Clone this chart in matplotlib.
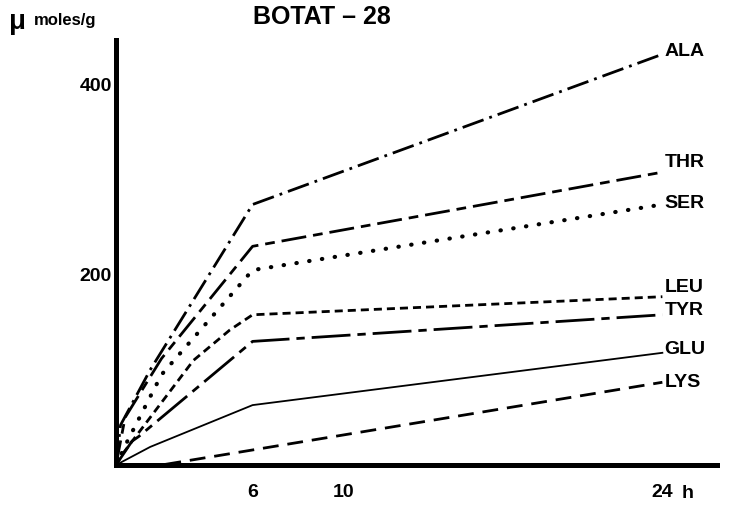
import matplotlib
matplotlib.use("Agg")
import matplotlib.pyplot as plt

plt.rcParams["font.family"] = ["Liberation Sans", "DejaVu Sans"]

# Amino acid content (umoles/g) vs time (h)
ala_t = [0, 0.2, 1.5, 6, 24]
ala_v = [0, 42, 100, 274, 432]
thr_t = [0, 0.4, 2, 6, 24]
thr_v = [0, 50, 112, 230, 308]
ser_t = [0, 0.5, 2, 6, 24]
ser_v = [0, 25, 95, 205, 274]
leu_t = [0, 0.3, 3.4, 5, 6, 24]
leu_v = [0, 12, 110, 142, 158, 177]
tyr_t = [0, 0.7, 1, 6, 24]
tyr_v = [0, 25, 30, 130, 158]
glu_t = [0, 1.5, 6, 24]
glu_v = [0, 19, 63, 118]
lys_t = [0, 2, 24]
lys_v = [0, 0, 87]

names = ["ALA", "THR", "SER", "LEU", "TYR", "GLU", "LYS"]
times = [ala_t, thr_t, ser_t, leu_t, tyr_t, glu_t, lys_t]
values = [ala_v, thr_v, ser_v, leu_v, tyr_v, glu_v, lys_v]

x_ticks = [6, 10, 24]
y_ticks = [200, 400]

# line styles
styles = {
    "ALA": dict(lw=2.0, ls=(0, (8, 2.2, 1, 2.2))),
    "THR": dict(lw=2.0, ls=(0, (9, 2.5, 3.5, 2.5))),
    "SER": dict(lw=3.0, ls=(0, (0.1, 3.0)), dash_capstyle="round"),
    "LEU": dict(lw=2.0, ls=(0, (2.9, 1.8))),
    "TYR": dict(lw=2.0, ls=(0, (14, 2.5, 3, 2.5))),
    "GLU": dict(lw=1.3, ls="-"),
    "LYS": dict(lw=2.0, ls=(0, (5.7, 3.2))),
}
label_dy = {"ALA": 3, "THR": 10, "SER": 1, "LEU": 10, "TYR": 4, "GLU": 4, "LYS": 0}

fig = plt.figure(figsize=(7.3, 5.05), dpi=100)
ax = fig.add_axes([116 / 730, 40 / 505, 601 / 730, 425 / 505])

for name, t, v in zip(names, times, values):
    ax.plot(t, v, color="black", clip_on=False, **styles[name])
    ax.text(24.1, v[-1] + label_dy[name], name, ha="left", va="center",
            fontsize=14, fontweight="bold")

ax.set_xlim(0, 26.4)
ax.set_ylim(0, 447)

for side in ["top", "right"]:
    ax.spines[side].set_visible(False)
for side in ["left", "bottom"]:
    ax.spines[side].set_linewidth(3.6)

ax.set_xticks(x_ticks)
ax.set_xticklabels(["6", "10", "24"])
ax.set_yticks(y_ticks)
ax.tick_params(length=0, labelsize=14)
for lab in ax.get_xticklabels() + ax.get_yticklabels():
    lab.set_fontweight("bold")
ax.tick_params(axis="x", pad=14)
ax.tick_params(axis="y", pad=3)
ax.text(24.85, -30, "h", ha="left", va="center", fontsize=14, fontweight="bold")

fig.text(322 / 730, 1 - 17 / 505, "BOTAT – 28", ha="center", va="center",
         fontsize=18, fontweight="bold")
fig.text(9 / 730, 1 - 22 / 505, "μ", ha="left", va="center",
         fontsize=20, fontweight="bold")
fig.text(34 / 730, 1 - 20 / 505, "moles/g", ha="left", va="center",
         fontsize=12, fontweight="bold")

fig.savefig("out.png", dpi=100)
